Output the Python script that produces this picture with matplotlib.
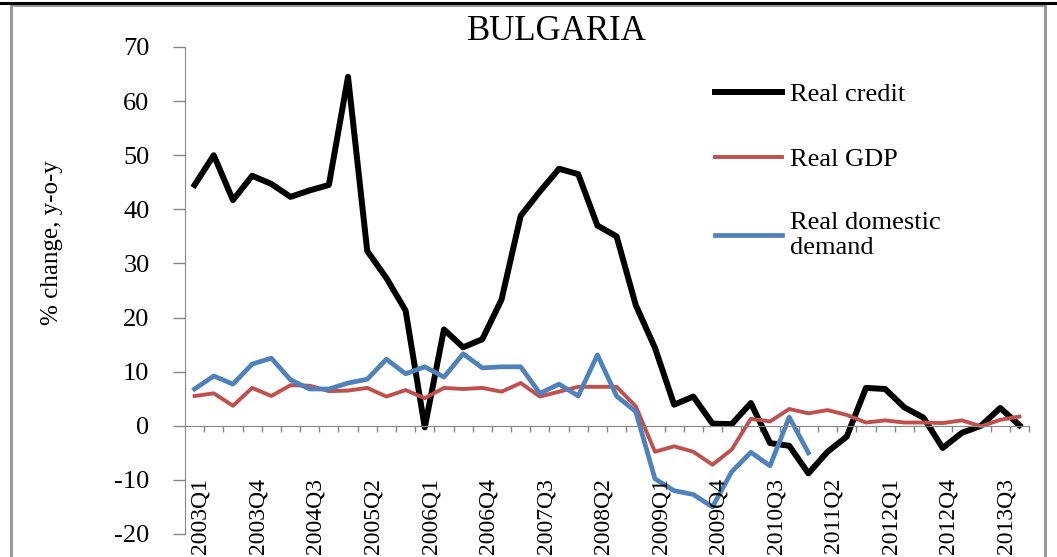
import matplotlib
matplotlib.use('Agg')
import matplotlib.pyplot as plt
from matplotlib.patches import Rectangle
from matplotlib.lines import Line2D
import numpy as np

plt.rcParams['font.family'] = ['Liberation Serif', 'DejaVu Serif']
plt.rcParams['axes.unicode_minus'] = False

# Quarterly y-o-y growth, 2003Q1 - 2013Q4
quarters = [f'{y}Q{q}' for y in range(2003, 2014) for q in range(1, 5)]

real_credit = [44.5, 50.0, 41.7, 46.2, 44.7, 42.3, 43.5, 44.5,
               64.5, 32.3, 27.3, 21.3, -0.3, 17.8, 14.5, 16.0,
               23.3, 38.8, 43.3, 47.5, 46.5, 37.0, 35.0, 22.3,
               14.4, 3.9, 5.4, 0.4, 0.3, 4.2, -3.2, -3.7,
               -8.8, -4.8, -2.0, 7.0, 6.8, 3.4, 1.5, -4.1,
               -1.3, 0.0, 3.3, 0.1]

real_gdp = [5.5, 6.0, 3.7, 7.0, 5.5, 7.5, 7.4, 6.4,
            6.5, 7.0, 5.4, 6.6, 5.1, 7.0, 6.8, 7.0,
            6.3, 7.9, 5.4, 6.3, 7.2, 7.2, 7.2, 3.6,
            -4.8, -3.8, -4.8, -7.2, -4.4, 1.3, 0.8, 3.1,
            2.3, 2.9, 2.0, 0.6, 1.0, 0.6, 0.6, 0.5,
            1.0, -0.1, 1.1, 1.7]

# domestic demand series stops at 2011Q1
real_dom_demand = [6.8, 9.2, 7.7, 11.4, 12.5, 8.5, 6.8, 6.8,
                   7.9, 8.6, 12.3, 9.6, 10.9, 9.0, 13.3, 10.7,
                   10.9, 10.9, 6.0, 7.7, 5.5, 13.1, 5.5, 2.6,
                   -9.8, -12.0, -12.7, -15.0, -8.5, -4.9, -7.4, 1.6,
                   -5.0]

x = np.arange(len(quarters))
axis_grey = '#868686'

fig = plt.figure(figsize=(10.57, 5.57), dpi=100)
ax = fig.add_axes([185 / 1057, 23 / 557, 844 / 1057, 487 / 557])

ax.plot(x, real_credit, color='black', lw=4.3, label='Real credit')
ax.plot(x, real_gdp, color='#C0504D', lw=2.8, label='Real GDP')
ax.plot(x[:len(real_dom_demand)], real_dom_demand, color='#4F81BD', lw=3.4,
        label='Real domestic\ndemand')

ax.set_xlim(-0.5, len(quarters) - 0.5)
ax.set_ylim(-20, 70)
ax.set_yticks(np.arange(-20, 71, 10))
ax.tick_params(axis='y', direction='out', length=8.6, width=1, color=axis_grey,
               labelsize=19, pad=17)

# category axis crosses at zero, tick marks between quarters
ax.spines['bottom'].set_position(('data', 0))
ax.spines['bottom'].set_color(axis_grey)
ax.spines['left'].set_color(axis_grey)
ax.spines['top'].set_visible(False)
ax.spines['right'].set_visible(False)
ax.set_xticks(np.arange(0.5, len(quarters), 1.0))
ax.tick_params(axis='x', direction='out', length=4.5, width=1, color=axis_grey,
               labelbottom=False)

# quarter labels sit low in the plot area, every third quarter
for i in range(0, len(quarters), 3):
    ax.text(i + 0.3, -9.6, quarters[i], rotation=90, ha='center', va='top',
            fontsize=17)

fig.text(52 / 1057, 1 - 243 / 557, '% change, y-o-y', rotation=90,
         ha='center', va='center', fontsize=18)
fig.text(557 / 1057, 1 - 31 / 557, 'BULGARIA', ha='center', va='center',
         fontsize=25)

ax.legend(loc='upper left', bbox_to_anchor=(715 / 1057, 1 - 83 / 557),
          bbox_transform=fig.transFigure, frameon=False, fontsize=19,
          handlelength=2.55, handletextpad=0.3, labelspacing=1.55,
          borderpad=0, borderaxespad=0)

# chart frame and top rule
fig.add_artist(Rectangle((11 / 1057, -0.1), (1045 - 11) / 1057, 1.1 - 5 / 557,
                         transform=fig.transFigure, fill=False,
                         edgecolor='#9a9a9a', lw=2.2))
fig.add_artist(Line2D([0, 1], [1 - 3 / 557, 1 - 3 / 557], transform=fig.transFigure,
                      color='black', lw=2.2))

fig.savefig('out.png', dpi=100)
